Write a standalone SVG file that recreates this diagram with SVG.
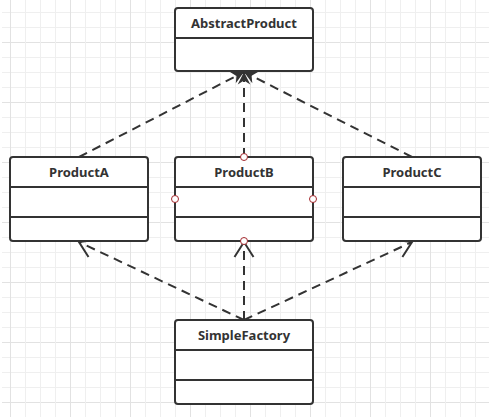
<svg xmlns="http://www.w3.org/2000/svg" width="501" height="417" viewBox="0 0 501 417">
<style>
.g{stroke:#efefef;stroke-width:1}
.gm{stroke:#e2e2e2;stroke-width:1}
.box{fill:#fff;stroke:#333;stroke-width:2}
.div{stroke:#333;stroke-width:2}
.t{font-family:"Noto Sans","DejaVu Sans",sans-serif;font-weight:bold;font-size:13px;fill:#333;text-anchor:middle}
.c{fill:none;stroke:#333;stroke-width:2;stroke-dasharray:9 6}
.pt{fill:#fff;stroke:#a3282d;stroke-width:1}
</style>
<defs>
<marker id="classic" markerUnits="userSpaceOnUse" viewBox="-14 -8 16 16" markerWidth="16" markerHeight="16" refX="0" refY="0" orient="auto">
<path d="M0,0 L-12.5,-6.3 L-8.5,0 L-12.5,6.3 Z" fill="#333"/>
</marker>
<marker id="open" markerUnits="userSpaceOnUse" viewBox="-18 -11 20 22" markerWidth="20" markerHeight="22" refX="0" refY="0" orient="auto">
<path d="M-15,-9.5 L0,0 L-15,9.5" fill="none" stroke="#333" stroke-width="2"/>
</marker>
</defs>
<rect width="501" height="417" fill="#fff"/>
<g id="grid">
<path class="g" d="M2,12.5H489M2,27.5H489M2,57.5H489M2,72.5H489M2,87.5H489M2,117.5H489M2,132.5H489M2,147.5H489M2,177.5H489M2,192.5H489M2,207.5H489M2,237.5H489M2,252.5H489M2,267.5H489M2,297.5H489M2,312.5H489M2,327.5H489M2,357.5H489M2,372.5H489M2,387.5H489"/>
<path class="gm" d="M2,42.5H489M2,102.5H489M2,162.5H489M2,222.5H489M2,282.5H489M2,342.5H489M2,402.5H489"/>
<path class="g" d="M25.5,0V417M40.5,0V417M55.5,0V417M85.5,0V417M100.5,0V417M115.5,0V417M145.5,0V417M160.5,0V417M175.5,0V417M205.5,0V417M220.5,0V417M235.5,0V417M265.5,0V417M280.5,0V417M295.5,0V417M325.5,0V417M340.5,0V417M355.5,0V417M385.5,0V417M400.5,0V417M415.5,0V417M445.5,0V417M460.5,0V417M475.5,0V417"/>
<path class="gm" d="M10.5,0V417M70.5,0V417M130.5,0V417M190.5,0V417M250.5,0V417M310.5,0V417M370.5,0V417M430.5,0V417"/>
</g>
<g id="connectors">
<line class="c" x1="79" y1="157" x2="244" y2="72" marker-end="url(#classic)"/>
<line class="c" x1="244" y1="157" x2="244" y2="72" marker-end="url(#classic)"/>
<line class="c" x1="412" y1="157" x2="244" y2="72" marker-end="url(#classic)"/>
<line class="c" x1="244" y1="320" x2="79" y2="242" marker-end="url(#open)"/>
<line class="c" x1="244" y1="320" x2="244" y2="242" marker-end="url(#open)"/>
<line class="c" x1="244" y1="320" x2="412" y2="242" marker-end="url(#open)"/>
</g>
<g id="AbstractProduct">
<rect class="box" x="175" y="8" width="138" height="63" rx="3"/>
<line class="div" x1="175" y1="38" x2="313" y2="38"/>
<text class="t" x="244" y="28">AbstractProduct</text>
</g>
<g id="ProductA">
<rect class="box" x="10" y="157" width="138" height="84" rx="3"/>
<line class="div" x1="10" y1="187" x2="148" y2="187"/>
<line class="div" x1="10" y1="217" x2="148" y2="217"/>
<text class="t" x="79" y="177">ProductA</text>
</g>
<g id="ProductB">
<rect class="box" x="175" y="157" width="138" height="84" rx="3"/>
<line class="div" x1="175" y1="187" x2="313" y2="187"/>
<line class="div" x1="175" y1="217" x2="313" y2="217"/>
<text class="t" x="244" y="177">ProductB</text>
<circle class="pt" cx="244" cy="157" r="3.5"/>
<circle class="pt" cx="175" cy="199" r="3.5"/>
<circle class="pt" cx="313" cy="199" r="3.5"/>
<circle class="pt" cx="244" cy="241" r="3.5"/>
</g>
<g id="ProductC">
<rect class="box" x="343" y="157" width="138" height="84" rx="3"/>
<line class="div" x1="343" y1="187" x2="481" y2="187"/>
<line class="div" x1="343" y1="217" x2="481" y2="217"/>
<text class="t" x="412" y="177">ProductC</text>
</g>
<g id="SimpleFactory">
<rect class="box" x="175" y="320" width="138" height="84" rx="3"/>
<line class="div" x1="175" y1="350" x2="313" y2="350"/>
<line class="div" x1="175" y1="380" x2="313" y2="380"/>
<text class="t" x="244" y="340">SimpleFactory</text>
</g>
</svg>
